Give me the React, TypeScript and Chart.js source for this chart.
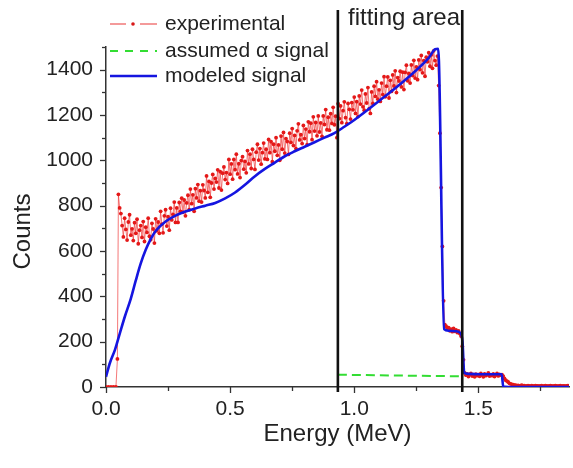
import React, { useEffect, useRef } from "react";
import { Chart, registerables } from "chart.js";

Chart.register(...registerables);

const FONT = "'Liberation Sans', Arial, Helvetica, sans-serif";

// ---------------- data ----------------
// experimental spectrum: lead-in channels, then channels every 0.005 MeV from 0.05 MeV
const expLeadEnergy = [0, 0.01, 0.02, 0.03, 0.04, 0.046];
const expLeadCounts = [0, 0, 0, 0, 0, 124];
const expStartEnergy = 0.05;
const expStep = 0.005;
const expCounts = [
  850, 790, 765, 712, 662, 745, 695, 648, 728, 760,
  670, 698, 646, 725, 678, 740, 632, 692, 712, 660,
  730, 642, 705, 682, 745, 665, 650, 722, 697, 635,
  742, 689, 728, 678, 775, 719, 680, 755, 782, 710,
  752, 692, 789, 737, 762, 816, 726, 790, 726, 814,
  775, 833, 771, 825, 755, 812, 846, 782, 873, 809,
  848, 775, 875, 834, 893, 820, 866, 816, 892, 867,
  834, 931, 859, 907, 837, 900, 938, 873, 920, 904,
  958, 878, 950, 869, 943, 971, 915, 946, 898, 1004,
  939, 984, 917, 1004, 959, 1027, 940, 985, 924, 999,
  1016, 961, 995, 945, 1043, 984, 1027, 964, 1049, 1004,
  960, 1036, 1071, 1001, 1052, 983, 1034, 1076, 1006, 1049,
  1004, 1092, 1034, 1082, 994, 1071, 1040, 1100, 1022, 1068,
  1000, 1107, 1049, 1123, 1032, 1096, 1083, 1026, 1120, 1079,
  1140, 1065, 1110, 1052, 1130, 1161, 1090, 1113, 1074, 1154,
  1096, 1138, 1069, 1170, 1126, 1164, 1091, 1192, 1129, 1167,
  1108, 1196, 1125, 1165, 1106, 1196, 1158, 1224, 1135, 1190,
  1133, 1206, 1163, 1234, 1157, 1195, 1100, 1250, 1184, 1240,
  1166, 1219, 1258, 1188, 1162, 1251, 1225, 1182, 1255, 1223,
  1279, 1207, 1259, 1193, 1284, 1248, 1310, 1236, 1221, 1293,
  1253, 1321, 1228, 1207, 1302, 1251, 1327, 1282, 1347, 1270,
  1311, 1260, 1341, 1290, 1369, 1280, 1327, 1368, 1275, 1353,
  1304, 1377, 1328, 1395, 1299, 1365, 1350, 1393, 1324, 1389,
  1312, 1388, 1420, 1351, 1383, 1341, 1421, 1374, 1441, 1363,
  1412, 1356, 1443, 1400, 1463, 1386, 1440, 1371, 1455, 1435,
  1475, 1415, 1465, 1406, 1483, 1440, 1420, 1460, 1330, 1120,
  880, 620, 380, 275, 268, 258, 262, 248, 255, 244,
  258, 246, 252, 240, 248, 236, 225, 180, 120, 62,
  52, 58, 46, 55, 60, 48, 54, 45, 57, 50,
  55, 47, 60, 52, 45, 58, 50, 54, 62, 48,
  55, 50, 58, 46, 53, 60, 49, 56, 52, 55,
  48, 38, 30, 26, 22, 16, 14, 12, 10, 8,
  8, 6, 7, 5, 6, 8, 5, 6, 4, 5,
  6, 5, 4, 6, 5, 4, 6, 5, 5, 4,
  5, 6, 4, 5, 6, 5, 4, 5, 6, 5,
  4, 5, 6, 5, 4, 5, 6, 4, 5, 5,
  4, 5, 6, 5,
];

// modeled signal
const modEnergy = [
  0, 0.016, 0.036, 0.056, 0.076, 0.1, 0.12, 0.14, 0.16, 0.18, 0.2, 0.24, 0.28, 0.32,
  0.36, 0.4, 0.44, 0.48, 0.52, 0.56, 0.6, 0.64, 0.68, 0.72, 0.76, 0.8, 0.84, 0.88,
  0.92, 0.96, 1.0, 1.1, 1.2, 1.3, 1.326, 1.338, 1.362, 1.38, 1.41, 1.428, 1.436,
  1.443, 1.46, 1.52, 1.594, 1.6, 1.62, 1.865,
];
const modCounts = [
  45, 107, 164, 238, 311, 390, 470, 545, 605, 652, 688, 730, 756, 774,
  788, 800, 812, 832, 858, 892, 930, 962, 990, 1018, 1040, 1060, 1080, 1100,
  1120, 1148, 1178, 1262, 1350, 1452, 1490, 1492, 255, 248, 246, 238, 200,
  62, 58, 56, 56, 2, 0, 0,
];

// assumed alpha signal
const alphaEnergy = [0.934, 1.436];
const alphaCounts = [54, 47];

// fitting-area boundaries
const fitBounds = [0.934, 1.435];

// axis ticks
const xMajor = [0, 0.5, 1.0, 1.5];
const xMinor = [0.25, 0.75, 1.25, 1.75];
const yMajor = [0, 200, 400, 600, 800, 1000, 1200, 1400];
const yMinor = [100, 300, 500, 700, 900, 1100, 1300, 1500];

// texts
const seriesLabels = ["experimental", "assumed \u03b1 signal", "modeled signal"];
const fitLabel = "fitting area";
const xTitle = "Energy (MeV)";
const yTitle = "Counts";

// ---------------- chart ----------------
const overlay = {
  id: "overlay",
  afterDatasetsDraw(chart: any) {
    const { ctx, scales, chartArea } = chart;
    const x = scales.x;
    ctx.save();
    ctx.strokeStyle = "#111";
    ctx.lineWidth = 2.6;
    for (const e of fitBounds) {
      const px = x.getPixelForValue(e);
      ctx.beginPath();
      ctx.moveTo(px, 10);
      ctx.lineTo(px, chartArea.bottom + 5);
      ctx.stroke();
    }
    ctx.restore();
  },
  afterDraw(chart: any) {
    const { ctx, scales, chartArea } = chart;
    const x = scales.x;
    const y = scales.y;
    ctx.save();
    // tick marks
    ctx.strokeStyle = "#333";
    ctx.lineWidth = 1.3;
    const seg = (x1: number, y1: number, x2: number, y2: number) => {
      ctx.beginPath();
      ctx.moveTo(x1, y1);
      ctx.lineTo(x2, y2);
      ctx.stroke();
    };
    for (const v of xMajor) {
      const px = Math.round(x.getPixelForValue(v)) + 0.5;
      seg(px, chartArea.bottom, px, chartArea.bottom + 6);
    }
    for (const v of xMinor) {
      const px = Math.round(x.getPixelForValue(v)) + 0.5;
      seg(px, chartArea.bottom, px, chartArea.bottom + 4);
    }
    for (const v of yMajor) {
      const py = Math.round(y.getPixelForValue(v)) + 0.5;
      seg(chartArea.left - 6, py, chartArea.left, py);
    }
    for (const v of yMinor) {
      const py = Math.round(y.getPixelForValue(v)) + 0.5;
      seg(chartArea.left - 4, py, chartArea.left, py);
    }

    ctx.fillStyle = "#222";
    // fitting area label
    ctx.font = `24px ${FONT}`;
    ctx.textAlign = "left";
    ctx.textBaseline = "alphabetic";
    ctx.fillText(fitLabel, 348, 25);

    // axis titles
    ctx.textAlign = "center";
    ctx.fillText(xTitle, (chartArea.left + chartArea.right) / 2, 441);
    ctx.save();
    ctx.translate(23, 231.5);
    ctx.rotate(-Math.PI / 2);
    ctx.textBaseline = "middle";
    ctx.fillText(yTitle, 0, 0);
    ctx.restore();

    // legend
    const rows = [24, 51, 76];
    ctx.font = `21px ${FONT}`;
    ctx.textAlign = "left";
    ctx.textBaseline = "middle";
    for (let i = 0; i < 3; i++) {
      ctx.fillStyle = "#222";
      ctx.fillText(seriesLabels[i], 165, rows[i]);
    }
    // experimental sample
    ctx.strokeStyle = "#f07878";
    ctx.lineWidth = 1.5;
    seg(110, rows[0], 126, rows[0]);
    seg(140, rows[0], 157, rows[0]);
    ctx.fillStyle = "#d81818";
    ctx.beginPath();
    ctx.arc(133, rows[0], 1.8, 0, Math.PI * 2);
    ctx.fill();
    // alpha sample
    ctx.strokeStyle = "#33dd33";
    ctx.lineWidth = 2;
    ctx.setLineDash([8, 7]);
    seg(110, rows[1], 157, rows[1]);
    ctx.setLineDash([]);
    // modeled sample
    ctx.strokeStyle = "#1515e0";
    ctx.lineWidth = 2.6;
    seg(110, rows[2], 157, rows[2]);
    ctx.restore();
  },
};

export default function App() {
  const ref = useRef<HTMLCanvasElement | null>(null);

  useEffect(() => {
    if (!ref.current) return;
    const expData = [
      ...expLeadEnergy.map((e, i) => ({ x: e, y: expLeadCounts[i] })),
      ...expCounts.map((c, i) => ({ x: +(expStartEnergy + i * expStep).toFixed(4), y: c })),
    ];
    const modData = modEnergy.map((e, i) => ({ x: e, y: modCounts[i] }));
    const alphaData = alphaEnergy.map((e, i) => ({ x: e, y: alphaCounts[i] }));

    const tickFont = { family: FONT, size: 21 };
    const chart = new Chart(ref.current, {
      type: "line",
      data: {
        datasets: [
          {
            label: seriesLabels[0],
            data: expData,
            borderColor: "rgba(238,40,40,0.7)",
            borderWidth: 0.9,
            pointRadius: 1.9,
            pointBackgroundColor: "#e41818",
            pointBorderWidth: 0,
            order: 3,
          },
          {
            label: seriesLabels[1],
            data: alphaData,
            borderColor: "#33dd33",
            borderDash: [9, 5],
            borderWidth: 2,
            pointRadius: 0,
            order: 2,
          },
          {
            label: seriesLabels[2],
            data: modData,
            borderColor: "#1515e0",
            borderWidth: 2.6,
            pointRadius: 0,
            cubicInterpolationMode: "monotone",
            order: 1,
          },
        ],
      } as any,
      options: {
        animation: false,
        responsive: true,
        maintainAspectRatio: false,
        layout: { padding: { top: 47, right: 1, left: 0, bottom: 0 } },
        plugins: { legend: { display: false }, tooltip: { enabled: false } },
        scales: {
          x: {
            type: "linear",
            min: 0,
            max: 1.865,
            afterFit: (s: any) => {
              s.height = 81;
            },
            grid: { display: false, drawTicks: false },
            border: { color: "#333", width: 1.5 },
            ticks: {
              stepSize: 0.5,
              autoSkip: false,
              includeBounds: false,
              maxRotation: 0,
              padding: 10,
              color: "#222",
              font: tickFont,
              callback: (v: any) => Number(v).toFixed(1),
            },
          },
          y: {
            type: "linear",
            min: 0,
            max: 1500,
            afterFit: (s: any) => {
              s.width = 106;
            },
            grid: { display: false, drawTicks: false },
            border: { color: "#333", width: 1.5 },
            ticks: {
              stepSize: 200,
              autoSkip: false,
              includeBounds: false,
              padding: 13,
              color: "#222",
              font: tickFont,
              callback: (v: any) => String(v),
            },
          },
        },
      } as any,
      plugins: [overlay],
    });
    return () => chart.destroy();
  }, []);

  return (
    <div style={{ position: "fixed", left: 0, top: 0, width: 573, height: 468, background: "#fff" }}>
      <canvas ref={ref} />
    </div>
  );
}
